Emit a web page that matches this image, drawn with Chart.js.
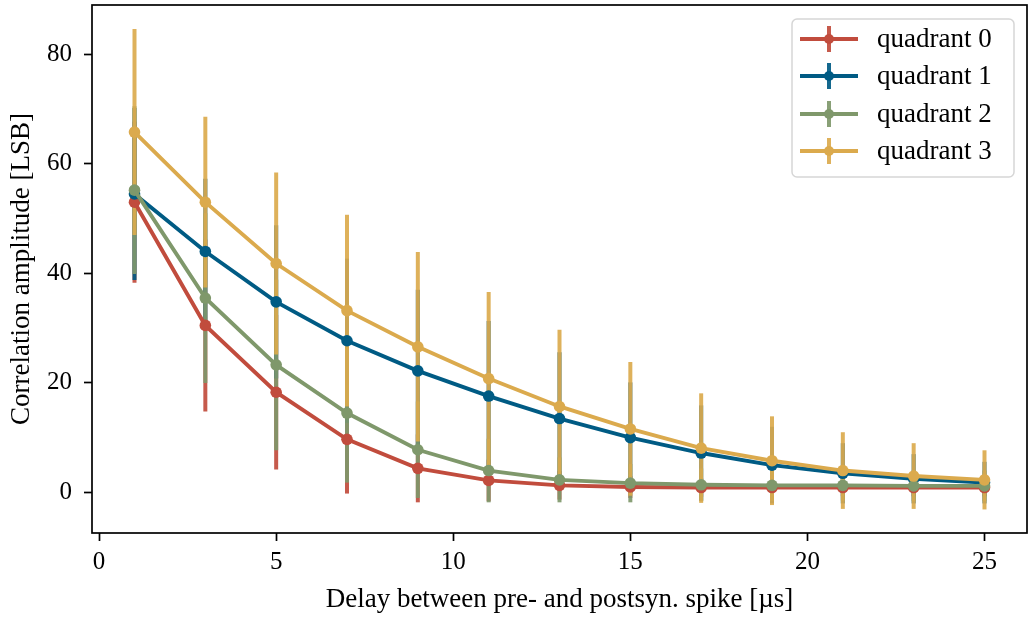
<!DOCTYPE html>
<html><head><meta charset="utf-8">
<script src="https://cdn.jsdelivr.net/npm/chart.js@4/dist/chart.umd.min.js"></script>
<style>html,body{margin:0;padding:0;background:#fff;} canvas{display:block;}</style>
</head><body>
<canvas id="c" width="1029" height="617"></canvas>
<script>
// ---- data ----
const delays = [1, 3, 5, 7, 9, 11, 13, 15, 17, 19, 21, 23, 25];
const seriesNames = ['quadrant 0', 'quadrant 1', 'quadrant 2', 'quadrant 3'];
const q0 = [53.0, 30.5, 18.3, 9.7, 4.4, 2.2, 1.3, 1.0, 0.9, 0.9, 0.9, 0.9, 0.9];
const q1 = [54.5, 44.0, 34.8, 27.7, 22.2, 17.6, 13.5, 10.0, 7.2, 5.0, 3.5, 2.5, 1.8];
const q2 = [55.2, 35.5, 23.3, 14.5, 7.8, 4.0, 2.3, 1.7, 1.4, 1.3, 1.3, 1.2, 1.2];
const q3 = [65.8, 53.0, 41.8, 33.2, 26.6, 20.8, 15.7, 11.6, 8.1, 5.8, 4.0, 3.0, 2.3];
const q0Err = [14.7, 15.7, 14.1, 9.9, 6.2, 3.8, 2.6, 2.0, 1.7, 1.6, 1.6, 1.6, 1.6];
const q1Err = [15.7, 13.3, 14.0, 15.0, 14.8, 13.7, 12.1, 10.1, 8.7, 7.0, 5.5, 4.5, 3.8];
const q2Err = [15.3, 15.5, 15.6, 12.7, 8.8, 5.8, 4.1, 3.5, 3.0, 2.8, 2.8, 2.8, 2.8];
const q3Err = [18.8, 15.6, 16.6, 17.5, 17.3, 15.8, 14.0, 12.2, 10.0, 8.1, 7.0, 6.0, 5.4];
const xTicks = [0, 5, 10, 15, 20, 25];
const yTicks = [0, 20, 40, 60, 80];
const xLabel = 'Delay between pre- and postsyn. spike [µs]';
const yLabel = 'Correlation amplitude [LSB]';

// ---- styles ----
const colors = ['#c14c3d', '#005b84', '#7f986b', '#dbaa4d'];
const barColors = ['rgba(193,76,61,0.92)', 'rgba(0,91,132,0.92)', 'rgba(127,152,107,0.92)', 'rgba(219,170,77,0.92)'];
const FONT = '"Liberation Serif", "Times New Roman", serif';
const values = [q0, q1, q2, q3];
const errs = [q0Err, q1Err, q2Err, q3Err];

const datasets = values.map((vals, i) => ({
  label: seriesNames[i],
  data: delays.map((d, j) => ({x: d, y: vals[j]})),
  errors: errs[i],
  borderColor: colors[i],
  backgroundColor: colors[i],
  pointBackgroundColor: colors[i],
  pointBorderWidth: 0,
  pointRadius: 5.8,
  borderWidth: 3.9,
  tension: 0,
  order: 3 - i
}));

const errorBarPlugin = {
  id: 'errorBars',
  beforeDatasetsDraw(chart) {
    const ctx = chart.ctx, xs = chart.scales.x, ys = chart.scales.y;
    const a = chart.chartArea;
    ctx.save();
    ctx.beginPath();
    ctx.rect(a.left, a.top, a.right - a.left, a.bottom - a.top);
    ctx.clip();
    chart.data.datasets.forEach((ds, i) => {
      ctx.strokeStyle = barColors[i];
      ctx.lineWidth = 4;
      ctx.lineCap = 'butt';
      ds.data.forEach((p, j) => {
        const e = ds.errors[j];
        const px = xs.getPixelForValue(p.x);
        ctx.beginPath();
        ctx.moveTo(px, ys.getPixelForValue(p.y - e));
        ctx.lineTo(px, ys.getPixelForValue(p.y + e));
        ctx.stroke();
      });
    });
    ctx.restore();
  }
};

const framePlugin = {
  id: 'frame',
  afterDatasetsDraw(chart) {
    const ctx = chart.ctx, a = chart.chartArea;
    ctx.save();
    ctx.strokeStyle = '#000';
    ctx.lineWidth = 1.7;
    ctx.strokeRect(a.left, a.top, a.right - a.left, a.bottom - a.top);
    ctx.restore();
  }
};

const legendPlugin = {
  id: 'boxLegend',
  afterDraw(chart) {
    const ctx = chart.ctx;
    const bx = 792, by = 19, bw = 222, bh = 158, r = 5;
    ctx.save();
    ctx.beginPath();
    ctx.moveTo(bx + r, by);
    ctx.arcTo(bx + bw, by, bx + bw, by + bh, r);
    ctx.arcTo(bx + bw, by + bh, bx, by + bh, r);
    ctx.arcTo(bx, by + bh, bx, by, r);
    ctx.arcTo(bx, by, bx + bw, by, r);
    ctx.closePath();
    ctx.fillStyle = 'rgba(255,255,255,0.8)';
    ctx.fill();
    ctx.strokeStyle = '#d6d6d6';
    ctx.lineWidth = 1.5;
    ctx.stroke();
    const rows = [39, 76, 114, 151];
    chart.data.datasets.forEach((ds, i) => {
      const y = rows[i];
      ctx.strokeStyle = colors[i];
      ctx.lineWidth = 3.9;
      ctx.beginPath();
      ctx.moveTo(800, y); ctx.lineTo(858, y); ctx.stroke();
      ctx.strokeStyle = barColors[i];
      ctx.lineWidth = 4;
      ctx.beginPath();
      ctx.moveTo(829, y - 13); ctx.lineTo(829, y + 13); ctx.stroke();
      ctx.fillStyle = colors[i];
      ctx.beginPath(); ctx.arc(829, y, 5, 0, Math.PI * 2); ctx.fill();
      ctx.fillStyle = '#000';
      ctx.font = '27px ' + FONT;
      ctx.textBaseline = 'middle';
      ctx.textAlign = 'left';
      ctx.fillText(ds.label, 877, y + 1);
    });
    ctx.restore();
  }
};

const tickGrid = {display: true, drawOnChartArea: false, drawTicks: true, tickLength: 8, tickWidth: 1.7, tickColor: '#000'};

new Chart(document.getElementById('c'), {
  type: 'line',
  data: {datasets},
  options: {
    responsive: false,
    animation: false,
    devicePixelRatio: 1,
    layout: {autoPadding: false, padding: {left: 0, right: 2, top: 5, bottom: 0}},
    plugins: {legend: {display: false}, tooltip: {enabled: false}},
    scales: {
      x: {
        type: 'linear', min: -0.2, max: 26.2,
        afterBuildTicks: s => { s.ticks = xTicks.map(v => ({value: v})); },
        afterFit: s => { s.height = 84; s.paddingLeft = 0; s.paddingRight = 0; },
        grid: tickGrid,
        border: {display: false},
        ticks: {color: '#000', font: {family: FONT, size: 25}, padding: 6, maxRotation: 0, autoSkip: false},
        title: {display: true, text: xLabel, color: '#000', font: {family: FONT, size: 27, lineHeight: 1.2}, padding: {top: 0, bottom: 1}}
      },
      y: {
        type: 'linear', min: -7.4, max: 89.0,
        afterBuildTicks: s => { s.ticks = yTicks.map(v => ({value: v})); },
        afterFit: s => { s.width = 92; s.paddingTop = 0; s.paddingBottom = 0; },
        grid: tickGrid,
        border: {display: false},
        ticks: {color: '#000', font: {family: FONT, size: 25}, padding: 12, autoSkip: false},
        title: {display: true, text: yLabel, color: '#000', font: {family: FONT, size: 27, lineHeight: 1.2}, padding: {top: 6, bottom: 0}}
      }
    }
  },
  plugins: [errorBarPlugin, framePlugin, legendPlugin]
});
</script>
</body></html>
